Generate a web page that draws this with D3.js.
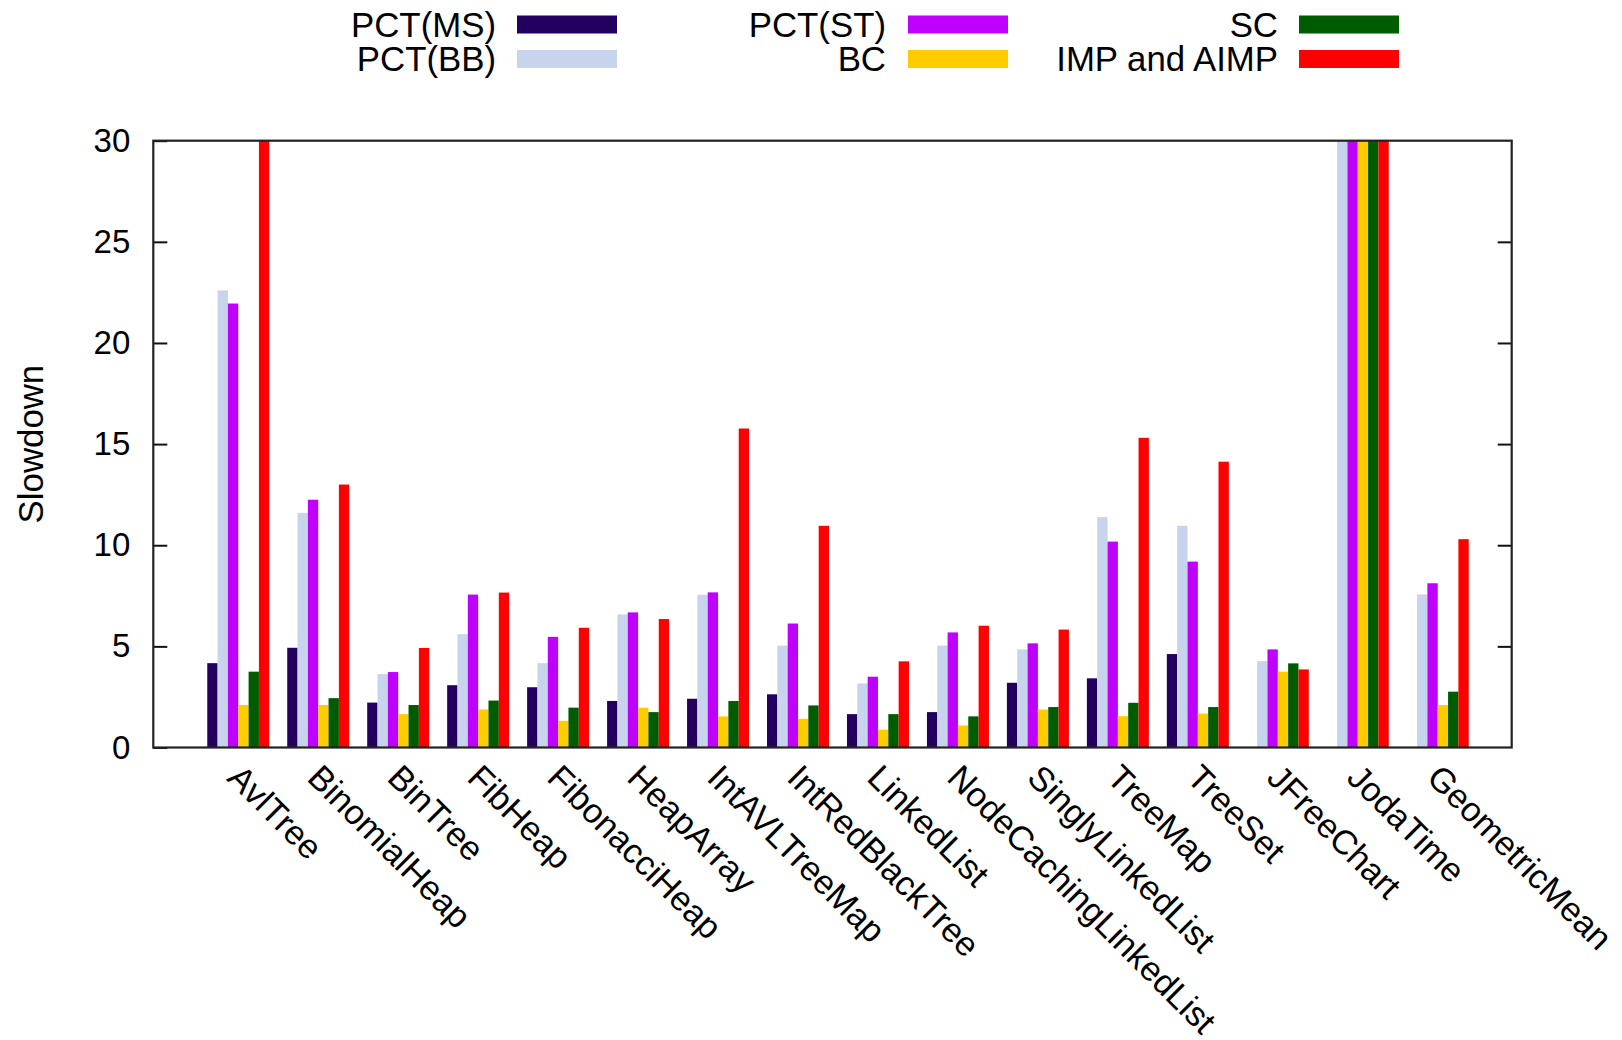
<!DOCTYPE html>
<html>
<head>
<meta charset="utf-8">
<script src="https://cdn.jsdelivr.net/npm/d3@7"></script>
<style>
  html, body { margin: 0; padding: 0; background: #fff; }
  svg { display: block; }
  text { font-family: "Liberation Sans", Arial, Helvetica, sans-serif; fill: #000; }
</style>
</head>
<body>
<svg id="chart" width="1622" height="1040"></svg>
<script>
// ---- data ----
const categories = ["AvlTree","BinomialHeap","BinTree","FibHeap","FibonacciHeap","HeapArray",
  "IntAVLTreeMap","IntRedBlackTree","LinkedList","NodeCachingLinkedList","SinglyLinkedList",
  "TreeMap","TreeSet","JFreeChart","JodaTime","GeometricMean"];
const seriesNames = ["PCT(MS)","PCT(BB)","PCT(ST)","BC","SC","IMP and AIMP"];
const pctMS  = [4.17, 4.93, 2.22, 3.08, 2.98, 2.30, 2.41, 2.63, 1.65, 1.75, 3.20, 3.42, 4.62, null, null, null];
const pctBB  = [22.6, 11.6, 3.63, 5.60, 4.17, 6.58, 7.55, 5.04, 3.17, 5.04, 4.85, 11.39, 10.96, 4.27, 30, 7.57];
const pctST  = [21.95, 12.25, 3.73, 7.56, 5.47, 6.68, 7.67, 6.13, 3.50, 5.69, 5.15, 10.18, 9.19, 4.85, 30, 8.12];
const bcVals = [2.10, 2.10, 1.65, 1.88, 1.32, 1.97, 1.54, 1.42, 0.88, 1.09, 1.88, 1.55, 1.68, 3.75, 30, 2.10];
const scVals = [3.75, 2.44, 2.10, 2.32, 1.97, 1.75, 2.30, 2.08, 1.65, 1.54, 2.00, 2.21, 2.00, 4.16, 30, 2.76];
const impVals= [30, 13.0, 4.92, 7.66, 5.92, 6.35, 15.77, 10.96, 4.26, 6.02, 5.83, 15.31, 14.13, 3.86, 30, 10.30];
const seriesValues = [pctMS, pctBB, pctST, bcVals, scVals, impVals];
const seriesColors = ["#23005f", "#c8d4ec", "#c000ff", "#ffcc00", "#005c00", "#ff0000"];
const yTicks = [0, 5, 10, 15, 20, 25, 30];
const yLabel = "Slowdown";

// ---- layout ----
const pLeft = 153.3, pRight = 1511.7, pTop = 140.7, pBottom = 747.5;
const svg = d3.select("#chart");

const x = d3.scaleLinear().domain([-1.0625, 15.925]).range([pLeft, pRight]);
const groupW = 62;
const xs = d3.scaleBand().domain(d3.range(seriesNames.length)).range([-groupW/2, groupW/2]).padding(0);
const y = d3.scaleLinear().domain([0, 30]).range([pBottom, pTop]);

svg.append("defs").append("clipPath").attr("id", "plotclip")
  .append("rect").attr("x", pLeft).attr("y", pTop).attr("width", pRight - pLeft).attr("height", pBottom - pTop);

// bars
const barData = [];
seriesValues.forEach((vals, s) => vals.forEach((v, i) => { if (v != null) barData.push({s, i, v}); }));
svg.append("g").attr("clip-path", "url(#plotclip)")
  .selectAll("rect").data(barData).join("rect")
  .attr("x", d => x(d.i) + xs(d.s))
  .attr("width", xs.bandwidth())
  .attr("y", d => y(Math.min(d.v, 30)))
  .attr("height", d => y(0) - y(Math.min(d.v, 30)))
  .attr("fill", d => seriesColors[d.s]);

// y axes (left and mirrored right), inward ticks
const fs = 33, fsL = 34.8, fsX = 34.3;
const yAxisL = d3.axisLeft(y).tickValues(yTicks).tickSize(-14).tickPadding(23).tickFormat(d3.format("d"));
const gL = svg.append("g").attr("transform", `translate(${pLeft},0)`).call(yAxisL);
gL.select(".domain").remove();
gL.selectAll(".tick line").attr("stroke", "#111").attr("stroke-width", 2);
gL.selectAll(".tick text").attr("font-size", fs).attr("fill", "#000")
  .attr("font-family", "Liberation Sans, Arial, sans-serif");

const yAxisR = d3.axisRight(y).tickValues(yTicks.filter(t => t > 0 && t < 30)).tickSize(-14).tickFormat("");
const gR = svg.append("g").attr("transform", `translate(${pRight},0)`).call(yAxisR);
gR.select(".domain").remove();
gR.selectAll(".tick line").attr("stroke", "#111").attr("stroke-width", 2);

// frame
svg.append("rect").attr("x", pLeft).attr("y", pTop).attr("width", pRight - pLeft).attr("height", pBottom - pTop)
  .attr("fill", "none").attr("stroke", "#222").attr("stroke-width", 2.2);

// x category labels, rotated 45deg
const xAxis = d3.axisBottom(x).tickValues(d3.range(categories.length)).tickSize(0).tickFormat(i => categories[i]);
const gX = svg.append("g").attr("transform", `translate(0,${pBottom})`).call(xAxis);
gX.select(".domain").remove();
gX.selectAll(".tick text")
  .attr("font-size", fsX).attr("font-family", "Liberation Sans, Arial, sans-serif").attr("fill", "#000")
  .attr("text-anchor", "start").attr("dy", null).attr("y", null)
  .attr("transform", "translate(-13,32) rotate(45)");

// y label
svg.append("text")
  .attr("transform", `translate(30,${(pTop + pBottom) / 2}) rotate(-90)`)
  .attr("text-anchor", "middle").attr("dominant-baseline", "central")
  .attr("font-size", fsL).text(yLabel);

// legend: 3 columns x 2 rows, text right-aligned before swatch
const legendCols = [{tx: 496, sx: 517}, {tx: 886, sx: 908}, {tx: 1278, sx: 1299}];
const legendRowsY = [24, 58.5];
const swW = 100, swH = 18;
const lg = svg.append("g");
seriesNames.forEach((name, k) => {
  const col = Math.floor(k / 2), row = k % 2;
  const cy = legendRowsY[row];
  lg.append("text").attr("x", legendCols[col].tx).attr("y", cy)
    .attr("text-anchor", "end").attr("dominant-baseline", "central")
    .attr("font-size", fsL).text(name);
  lg.append("rect").attr("x", legendCols[col].sx).attr("y", cy - swH / 2 + 0.5)
    .attr("width", swW).attr("height", swH).attr("fill", seriesColors[k]);
});
</script>
</body>
</html>
